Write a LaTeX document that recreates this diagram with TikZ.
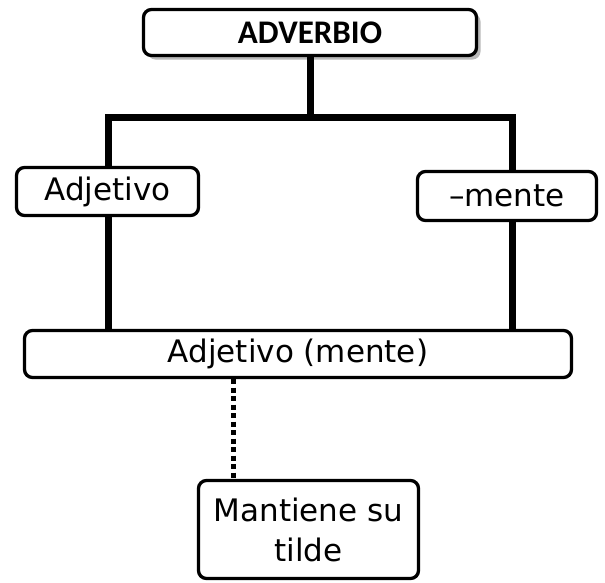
\documentclass[tikz,border=0pt]{standalone}
\usepackage{fontspec}
\setmainfont{DejaVu Sans}
\newfontfamily\headfont{Carlito}
\usetikzlibrary{shadows}
\begin{document}
\begin{tikzpicture}[x=1pt,y=-1pt,
  box/.style={draw=black,line width=3.3pt,rounded corners=8pt,fill=white,inner sep=0pt,align=center,font=\fontsize{31}{40}\selectfont},
  conn/.style={line width=7pt,black},
  dotline/.style={line width=5pt,black,dash pattern=on 5pt off 3.5pt}]
\useasboundingbox (0,0) rectangle (605,582);
\node[box,minimum width=333pt,minimum height=46pt,font=\headfont\bfseries\fontsize{33}{38}\selectfont,
  drop shadow={shadow xshift=4pt,shadow yshift=-4pt,fill=gray!55,opacity=1}] (top) at (310,32.5) {ADVERBIO};
\node[box,minimum width=182pt,minimum height=48pt] (adj) at (107.5,191.5) {Adjetivo};
\node[box,minimum width=179pt,minimum height=49pt] (men) at (507,196) {–mente};
\node[box,minimum width=547pt,minimum height=47pt] (am) at (298,354) {Adjetivo (mente)};
\node[box,minimum width=220pt,minimum height=98pt] (mt) at (308.5,529.5) {Mantiene su\\tilde};
\coordinate (jt) at (310,117);
\coordinate (jl) at (108,117);
\coordinate (jr) at (512,117);
\coordinate (jd) at (233,0);
\draw[conn] (top.south -| jt) -- (jt);
\draw[conn,line join=miter] (adj.north -| jl) -- (jl) -- (jr) -- (men.north -| jr);
\draw[conn] (adj.south -| jl) -- (am.north -| jl);
\draw[conn] (men.south -| jr) -- (am.north -| jr);
\draw[dotline] (am.south -| jd) -- (mt.north -| jd);
\end{tikzpicture}
\end{document}
